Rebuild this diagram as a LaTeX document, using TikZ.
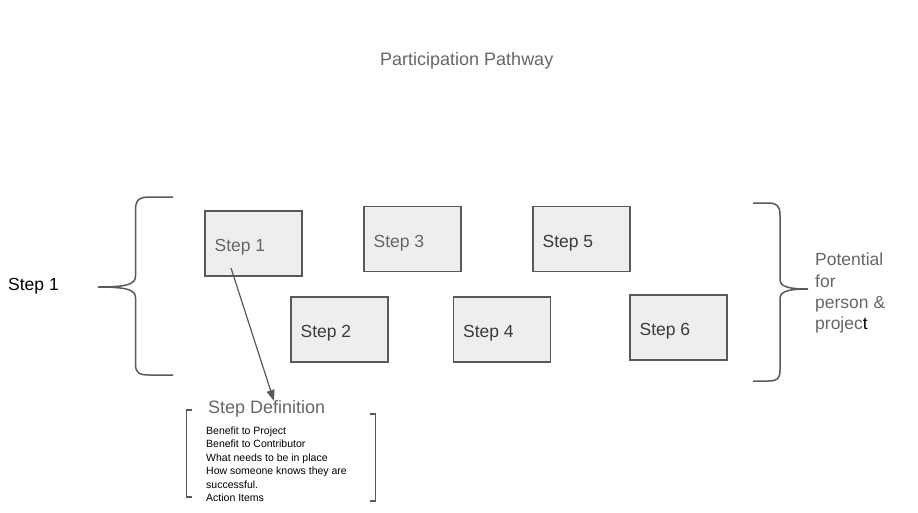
\documentclass[tikz,border=0pt]{standalone}
\usepackage{fontspec}
\setmainfont{Liberation Sans}
\usetikzlibrary{arrows.meta}
\definecolor{ln}{HTML}{595959}
\definecolor{gtext}{HTML}{666666}
\definecolor{dtext}{HTML}{3A3A3A}
\definecolor{boxfill}{HTML}{EEEEEE}
\begin{document}
\begin{tikzpicture}[x=1pt,y=-1pt,
  stepbox/.style={draw=ln,fill=boxfill,line width=1.2pt,minimum width=97pt,minimum height=65pt},
  steptext/.style={inner sep=0pt,anchor=base west,font=\fontsize{17.5}{20}\selectfont},
  bracepath/.style={draw=ln,line width=1.5pt},
  lbl/.style={inner sep=0pt,anchor=west}]
\useasboundingbox (0,0) rectangle (918,512);
\node[lbl,text=gtext,font=\fontsize{18}{21}\selectfont] (title) at (380,60.5) {Participation Pathway};

\node[stepbox] (s1) at (253.5,243.5) {};
\node[stepbox] (s3) at (412.5,239) {};
\node[stepbox] (s5) at (581.5,239) {};
\node[stepbox] (s2) at (339.5,329.5) {};
\node[stepbox] (s4) at (502,329.5) {};
\node[stepbox] (s6) at (678.5,327.5) {};
\node[steptext,text=gtext] (t1) at ([xshift=10pt,yshift=-8pt]s1.west) {Step 1};
\node[steptext,text=gtext] (t3) at ([xshift=10pt,yshift=-8pt]s3.west) {Step 3};
\node[steptext,text=dtext] (t5) at ([xshift=10pt,yshift=-8pt]s5.west) {Step 5};
\node[steptext,text=dtext] (t2) at ([xshift=10pt,yshift=-8pt]s2.west) {Step 2};
\node[steptext,text=dtext] (t4) at ([xshift=10pt,yshift=-8pt]s4.west) {Step 4};
\node[steptext,text=dtext] (t6) at ([xshift=10pt,yshift=-8pt]s6.west) {Step 6};

% left brace
\draw[bracepath] (173,197) -- (150,197) .. controls (139,197) and (135.5,200) .. (135.5,210)
  -- (135.5,276) .. controls (135.5,284) and (128,287) .. (98,287)
  .. controls (128,287) and (135.5,290) .. (135.5,298)
  -- (135.5,364) .. controls (135.5,373) and (139,375) .. (150,375) -- (173,375);
\node[lbl,font=\fontsize{17.5}{20}\selectfont] (lstep) at (8,286) {Step 1};

% right brace
\draw[bracepath] (753,203) -- (768,203) .. controls (777,203) and (780,206) .. (780,215)
  -- (780,279) .. controls (780,286) and (786,289) .. (808,289)
  .. controls (786,289) and (780,292) .. (780,299)
  -- (780,370) .. controls (780,379) and (777,381) .. (768,381) -- (753,381);
\node[lbl,anchor=north west,text=gtext,align=left,font=\fontsize{17.5}{21.3}\selectfont] (pot) at (815,253)
  {Potential\\for\\person \&\\projec\textcolor{black}{t}};

% step definition
\node[lbl,text=gtext,font=\fontsize{18}{21}\selectfont] (sdef) at (208,408.5) {Step Definition};
\node[lbl,anchor=north west,align=left,font=\fontsize{10.5}{13.5}\selectfont] (items) at (206,426.5)
  {Benefit to Project\\Benefit to Contributor\\What needs to be in place\\How someone knows they are\\successful.\\Action Items};
\draw[bracepath,line width=1.3pt] (192,410) -- (186.5,410) -- (186.5,497) -- (192,497);
\draw[bracepath,line width=1.3pt] (370,414) -- (375.5,414) -- (375.5,501) -- (370,501);

% arrow
\coordinate (astart) at (231,268);
\coordinate (aend) at (274,401);
\draw[ln,line width=1.2pt,-{Triangle[length=11pt,width=8pt]}] (astart) -- (aend);
\end{tikzpicture}
\end{document}
